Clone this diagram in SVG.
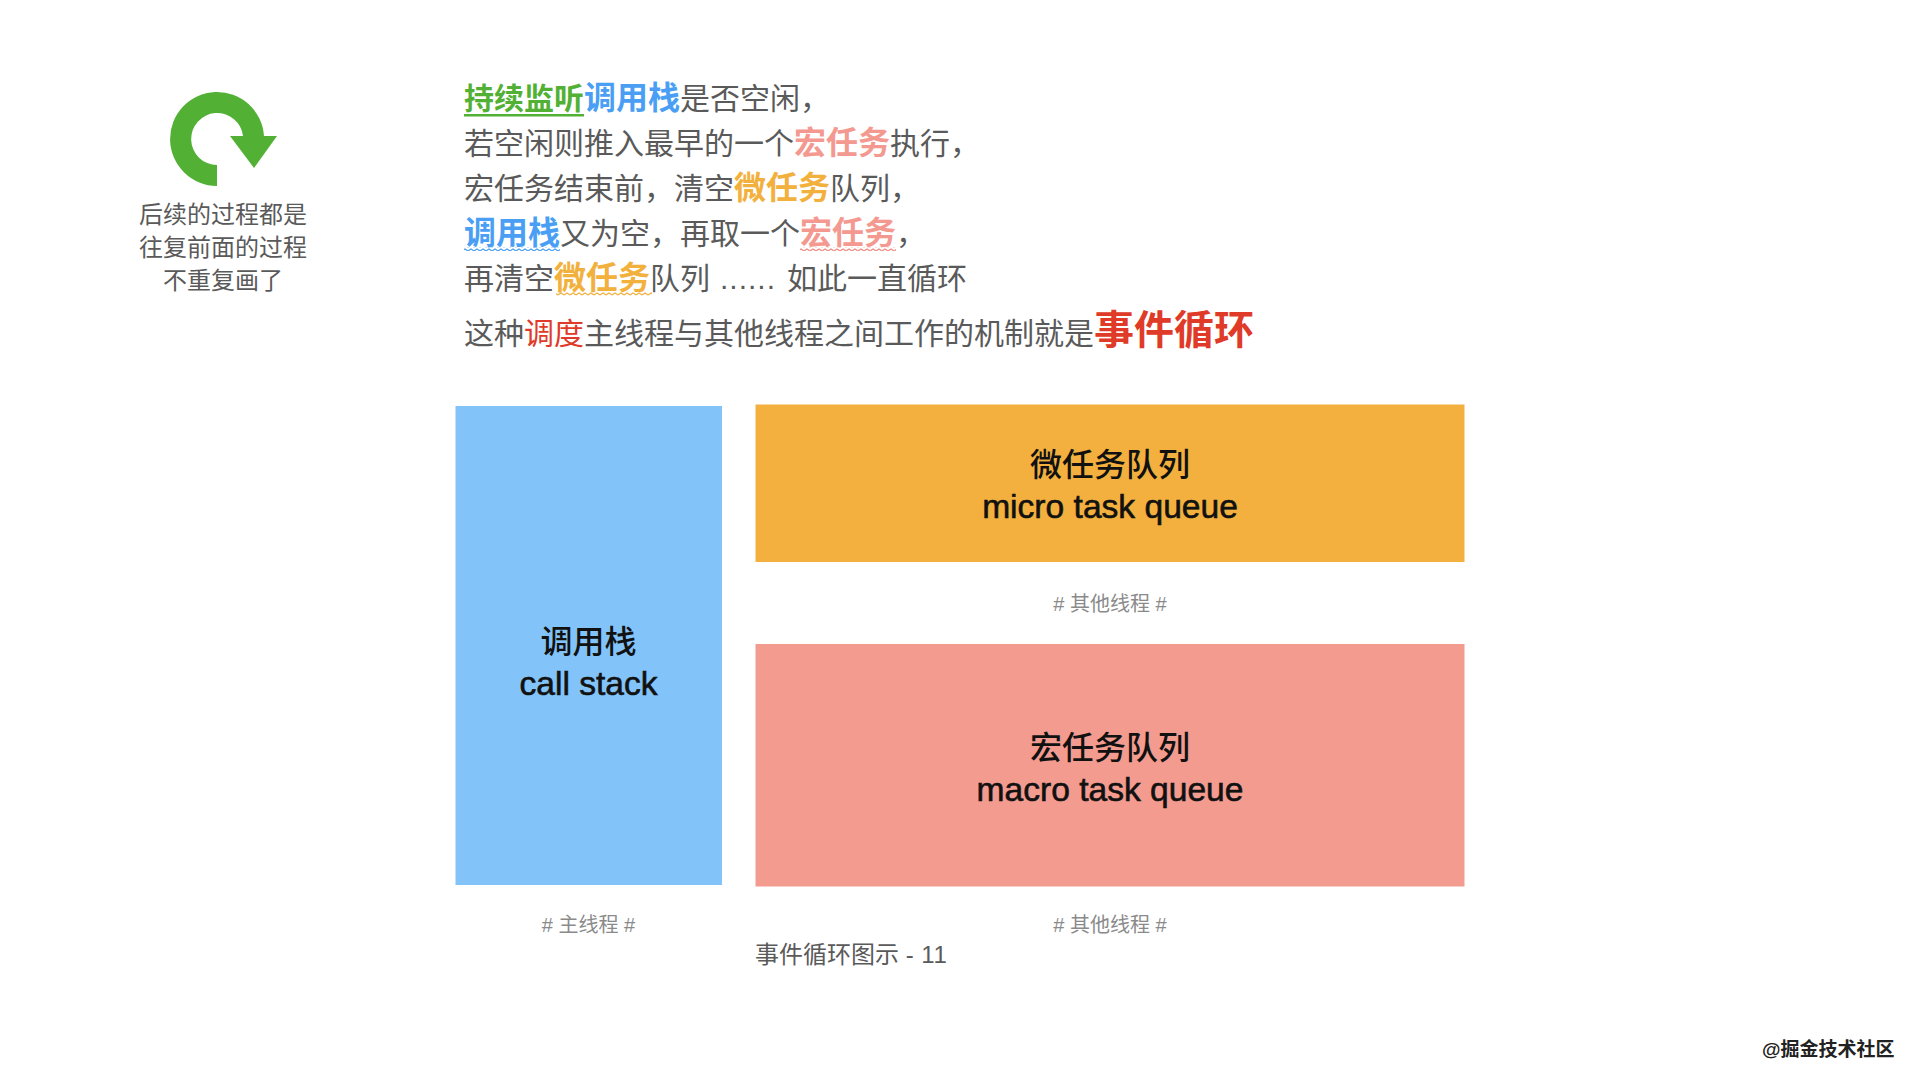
<svg xmlns="http://www.w3.org/2000/svg" width="1920" height="1080" viewBox="0 0 1920 1080">
<style>
text{font-family:"Liberation Sans","Noto Sans CJK SC",sans-serif;fill:#5a5a5a}
.l{font-size:30px}
.b{font-weight:700}
.g{fill:#52b135}.u{fill:#4a9ff5}.p{fill:#f4998f}.o{fill:#f2b03d}.r{fill:#e03a28}
.s{font-size:32px}
.n{font-size:24px}
.c{text-anchor:middle}
.m{font-size:32px;font-weight:500;fill:#111;text-anchor:middle}
.t{font-size:33.600px;stroke:#111;stroke-width:.6px}
.h{font-size:20px;fill:#8a8a8a;text-anchor:middle}
</style>
<defs>
<pattern id="wu" width="6" height="4" patternUnits="userSpaceOnUse"><path d="M0 3L3 1L6 3" fill="none" stroke="#4a9ff5" stroke-width="1.200"/></pattern>
<pattern id="wp" width="6" height="4" patternUnits="userSpaceOnUse"><path d="M0 3L3 1L6 3" fill="none" stroke="#f08a80" stroke-width="1.200"/></pattern>
<pattern id="wo" width="6" height="4" patternUnits="userSpaceOnUse"><path d="M0 3L3 1L6 3" fill="none" stroke="#f2b03d" stroke-width="1.200"/></pattern>
</defs>
<g id="loop-icon">
<path d="M217 186A47 47 0 1 1 264 136L243 136A26 26 0 1 0 217 165Z" fill="#52b135"/>
<path d="M230 136H277L254 168Z" fill="#52b135"/>
<text class="n c" x="223" y="223">后续的过程都是</text>
<text class="n c" x="223" y="256">往复前面的过程</text>
<text class="n c" x="223" y="289">不重复画了</text>
</g>
<g id="intro">
<text class="l" y="109"><tspan x="464" class="b g">持续监听</tspan><tspan class="b u s">调用栈</tspan><tspan>是否空闲，</tspan></text>
<rect x="464" y="114" width="120" height="2.500" fill="#52b135"/>
<text class="l" y="154"><tspan x="464">若空闲则推入最早的一个</tspan><tspan class="b p s">宏任务</tspan><tspan>执行，</tspan></text>
<text class="l" y="199"><tspan x="464">宏任务结束前，清空</tspan><tspan class="b o s">微任务</tspan><tspan>队列，</tspan></text>
<text class="l" y="244"><tspan x="464" class="b u s">调用栈</tspan><tspan>又为空，再取一个</tspan><tspan class="b p s">宏任务</tspan><tspan>，</tspan></text>
<rect x="464" y="247" width="96" height="4" fill="url(#wu)"/>
<rect x="800" y="247" width="96" height="4" fill="url(#wp)"/>
<text class="l" y="289"><tspan x="464">再清空</tspan><tspan class="b o s">微任务</tspan><tspan>队列</tspan><tspan x="720" letter-spacing="1">......</tspan><tspan x="787">如此一直循环</tspan></text>
<rect x="556" y="292" width="96" height="4" fill="url(#wo)"/>
<text class="l" y="344"><tspan x="464">这种</tspan><tspan class="r">调度</tspan><tspan>主线程与其他线程之间工作的机制就是</tspan><tspan class="b r" font-size="40">事件循环</tspan></text>
</g>
<g id="call-stack">
<rect x="455.500" y="406" width="266.500" height="479" fill="#82c4fa"/>
<text class="m" x="588.500" y="653">调用栈</text>
<text class="m t" x="588.500" y="695">call stack</text>
</g>
<g id="micro-queue">
<rect x="755.500" y="404.500" width="709" height="157.500" fill="#f3b03e"/>
<text class="m" x="1110" y="476">微任务队列</text>
<text class="m t" x="1110" y="518">micro task queue</text>
</g>
<text class="h" x="1110" y="611"># 其他线程 #</text>
<g id="macro-queue">
<rect x="755.500" y="644" width="709" height="242.500" fill="#f49b90"/>
<text class="m" x="1110" y="759">宏任务队列</text>
<text class="m t" x="1110" y="801">macro task queue</text>
</g>
<text class="h" x="588.500" y="932"># 主线程 #</text>
<text class="h" x="1110" y="932"># 其他线程 #</text>
<text class="n" x="755" y="963">事件循环图示 <tspan letter-spacing=".5">- 11</tspan></text>
<text id="watermark" x="1762" y="1056" font-size="19" font-weight="700" style="fill:#222">@掘金技术社区</text>
</svg>
